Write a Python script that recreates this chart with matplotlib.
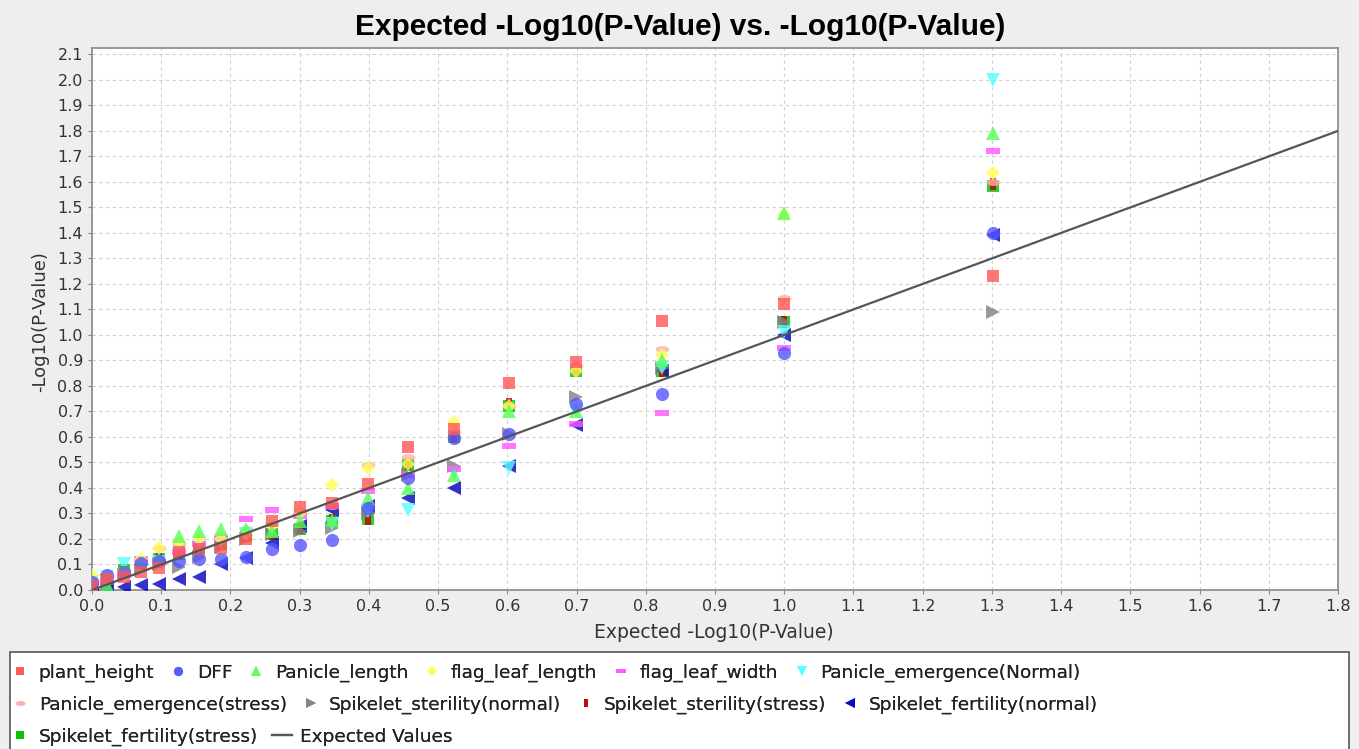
import matplotlib
matplotlib.use("Agg")
import matplotlib.pyplot as plt
from matplotlib.patches import Rectangle
import numpy as np

expected = [1.301, 1.0, 0.824, 0.699, 0.602, 0.523, 0.456, 0.398, 0.347, 0.301,
            0.260, 0.222, 0.187, 0.155, 0.125, 0.097, 0.071, 0.046, 0.022, 0.0]

plant_height = [1.23, 1.12, 1.055, 0.895, 0.81, 0.63, 0.56, 0.415, 0.34, 0.325,
                0.27, 0.20, 0.165, 0.16, 0.15, 0.085, 0.07, 0.05, 0.045, 0.015]
dff = [1.40, 0.93, 0.77, 0.73, 0.61, 0.595, 0.44, 0.32, 0.195, 0.175,
       0.16, 0.13, 0.12, 0.12, 0.115, 0.115, 0.105, 0.07, 0.06, 0.03]
panicle_length = [1.79, 1.48, 0.90, 0.70, 0.70, 0.45, 0.40, 0.36, 0.275, 0.27,
                  0.23, 0.24, 0.24, 0.23, 0.21, 0.12, 0.10, 0.08, 0.02, 0.01]
flag_leaf_length = [1.635, 1.47, 0.92, 0.86, 0.72, 0.66, 0.495, 0.48, 0.41, 0.30,
                    0.25, 0.22, 0.20, 0.20, 0.19, 0.165, 0.12, 0.07, 0.05, 0.06]
flag_leaf_width = [1.72, 0.95, 0.695, 0.65, 0.565, 0.475, 0.45, 0.39, 0.33, 0.29,
                   0.315, 0.28, 0.20, 0.18, 0.15, 0.11, 0.12, 0.06, 0.04, 0.02]
pe_normal = [2.0, 1.01, 0.87, 0.70, 0.48, 0.46, 0.315, 0.31, 0.26, 0.29,
             0.24, 0.22, 0.19, 0.17, 0.14, 0.11, 0.09, 0.10, 0.05, 0.03]
pe_stress = [1.60, 1.145, 0.945, 0.88, 0.72, 0.62, 0.52, 0.49, 0.33, 0.31,
             0.26, 0.24, 0.21, 0.20, 0.18, 0.165, 0.12, 0.08, 0.05, 0.04]
ss_normal = [1.09, 1.05, 0.87, 0.755, 0.61, 0.485, 0.45, 0.30, 0.245, 0.23,
             0.22, 0.20, 0.17, 0.13, 0.09, 0.10, 0.08, 0.06, 0.04, 0.02]
ss_stress = [1.59, 1.05, 0.86, 0.865, 0.73, 0.60, 0.495, 0.28, 0.275, 0.245,
             0.22, 0.21, 0.18, 0.16, 0.14, 0.12, 0.10, 0.07, 0.04, 0.03]
sf_normal = [1.39, 1.0, 0.86, 0.645, 0.485, 0.40, 0.36, 0.33, 0.315, 0.25,
             0.185, 0.125, 0.10, 0.05, 0.045, 0.025, 0.02, 0.01, 0.005, 0.0]
sf_stress = [1.585, 1.05, 0.86, 0.86, 0.72, 0.60, 0.49, 0.28, 0.27, 0.24,
             0.22, 0.21, 0.18, 0.16, 0.14, 0.12, 0.10, 0.08, 0.03, 0.02]

series_names = ["plant_height", "DFF", "Panicle_length", "flag_leaf_length",
                "flag_leaf_width", "Panicle_emergence(Normal)",
                "Panicle_emergence(stress)", "Spikelet_sterility(normal)",
                "Spikelet_sterility(stress)", "Spikelet_fertility(normal)",
                "Spikelet_fertility(stress)"]
series_values = [plant_height, dff, panicle_length, flag_leaf_length,
                 flag_leaf_width, pe_normal, pe_stress, ss_normal, ss_stress,
                 sf_normal, sf_stress]
line_x = [0.0, 1.8]

colors = ["#FF5555", "#5555FF", "#55FF55", "#FFFF55", "#FF55FF", "#55FFFF",
          "#FFAFAF", "#808080", "#C00000", "#0000C0", "#00C000"]

hrect = [(-1, -0.5), (1, -0.5), (1, 0.5), (-1, 0.5), (-1, -0.5)]
vrect = [(-0.5, -1), (0.5, -1), (0.5, 1), (-0.5, 1), (-0.5, -1)]
t = np.linspace(0, 2 * np.pi, 40)
hell = list(zip(np.cos(t), 0.5 * np.sin(t)))
markers = ["s", "o", "^", "D", hrect, "v", hell, ">", vrect, "<", "s"]
msizes = [8.5, 9.5, 9.5, 7, 10, 9.5, 10, 9.5, 9, 9.5, 8.5]

fig = plt.figure(figsize=(13.59, 7.49), dpi=100)
fig.patch.set_facecolor("#EEEEEE")
ax = fig.add_axes([92 / 1359, 1 - 590 / 749, (1338 - 92) / 1359, (590 - 48) / 749])
ax.set_facecolor("white")

handles = []
n = len(series_names)
for i, (name, vals, c, m, ms) in enumerate(zip(series_names, series_values, colors, markers, msizes)):
    h, = ax.plot(expected, vals, linestyle="none", marker=m, markersize=ms,
                 color=c, markeredgewidth=0, alpha=0.8, label=name,
                 zorder=3 + (n - i) * 0.01)
    handles.append(h)
lh, = ax.plot(line_x, line_x, color="#555555", linewidth=1.6, label="Expected Values", zorder=4)
handles.append(lh)

ax.set_xlim(0, 1.8)
ax.set_ylim(0, 2.125)
ax.set_xticks(np.arange(0, 1.81, 0.1))
ax.set_yticks(np.arange(0, 2.11, 0.1))
ax.xaxis.set_major_formatter(matplotlib.ticker.FormatStrFormatter("%.1f"))
ax.yaxis.set_major_formatter(matplotlib.ticker.FormatStrFormatter("%.1f"))
ax.tick_params(labelsize=11.5, colors="#333333", length=3, color="#888888")
ax.grid(True, color="#D0D0D0", linestyle=(0, (3, 3)), linewidth=0.8)
ax.set_axisbelow(True)
for s in ax.spines.values():
    s.set_color("#888888")
    s.set_linewidth(1.2)

fig.text(714 / 1359, 1 - 632 / 749, "Expected -Log10(P-Value)", ha="center", va="center",
         fontsize=13.5, color="#333333")
fig.text(40 / 1359, 1 - 322 / 749, "-Log10(P-Value)", ha="center", va="center",
         rotation=90, fontsize=13, color="#333333")
fig.text(680 / 1359, 1 - 27 / 749, "Expected -Log10(P-Value) vs. -Log10(P-Value)",
         ha="center", va="center", fontsize=21.5, fontweight="bold",
         family="Liberation Sans", color="black")

# legend box
fig.patches.append(Rectangle((10 / 1359, -0.01), 1339 / 1359, (749 - 652) / 749 + 0.01,
                             transform=fig.transFigure, facecolor="white",
                             edgecolor="#555555", linewidth=1.2, zorder=0))

rows = [handles[0:6], handles[6:10], handles[10:12]]
row_y = [673, 705, 737]
for rh, yy in zip(rows, row_y):
    leg = fig.legend(handles=rh, loc="center left",
                     bbox_to_anchor=(10 / 1359, 1 - yy / 749),
                     ncol=len(rh), frameon=False, fontsize=13.3,
                     handlelength=1.1, handletextpad=0.45, columnspacing=0.75,
                     borderpad=0, borderaxespad=0, markerscale=0.7)
    for txt in leg.get_texts():
        txt.set_color("#222222")
    fig.add_artist(leg)

fig.savefig("out.png", dpi=100, facecolor=fig.get_facecolor())
